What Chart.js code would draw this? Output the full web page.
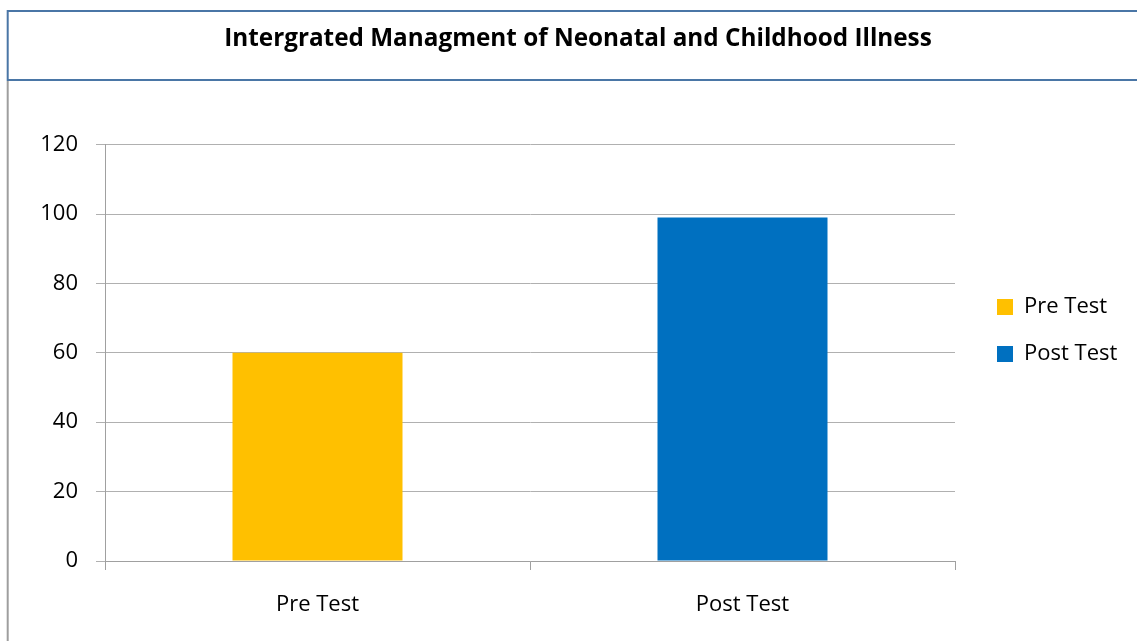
<!DOCTYPE html>
<html>
<head>
<meta charset="utf-8">
<script src="https://cdn.jsdelivr.net/npm/chart.js@4/dist/chart.umd.min.js"></script>
<style>
  html, body { margin: 0; padding: 0; background: #fff; }
  canvas { display: block; }
</style>
</head>
<body>
<canvas id="c" width="1137" height="641"></canvas>
<script>
const chartTitle = "Intergrated Managment of Neonatal and Childhood Illness";
const categories = ["Pre Test", "Post Test"];
const scores = [60, 99];
const barColors = ["#FFC000", "#0070C0"];
const yTicks = [0, 20, 40, 60, 80, 100, 120];

Chart.defaults.font.family = "'Open Sans', sans-serif";
Chart.defaults.color = "#000";

// legend sizing so that plot area ends at x = 955
const LEG_FONT = 22, LEG_BOX = 16, LEG_PAD = 25;
const mctx = document.createElement("canvas").getContext("2d");
mctx.font = LEG_FONT + "px 'Open Sans', sans-serif";
const maxLabelW = Math.max(...categories.map(c => mctx.measureText(c).width));
const legendW = LEG_PAD + LEG_BOX + LEG_FONT / 2 + maxLabelW + 10;
const padRight = Math.max(0, 1137 - 955 - legendW);

const framePlugin = {
  id: "frame",
  beforeDraw(chart) {
    const ctx = chart.ctx;
    ctx.save();
    ctx.fillStyle = "#fff";
    ctx.fillRect(0, 0, chart.width, chart.height);
    ctx.restore();
  },
  afterDraw(chart) {
    const ctx = chart.ctx;
    ctx.save();
    ctx.lineWidth = 2;
    ctx.strokeStyle = "#9E9E9E";
    ctx.beginPath();
    ctx.moveTo(7.7, 81);
    ctx.lineTo(7.7, chart.height);
    ctx.stroke();
    ctx.strokeStyle = "#4A76A6";
    ctx.strokeRect(7.7, 11, 1140, 69);
    ctx.restore();
  }
};

const shiftPlugin = {
  id: "shiftBoxes",
  afterLayout(chart) {
    const lg = chart.legend;
    if (lg) {
      const dx = chart.chartArea.right + 42 - LEG_PAD - lg.left;
      lg.left += dx; lg.right += dx;
    }
    const t = chart.titleBlock;
    if (t) {
      const dx = 578 - (t.left + t.right) / 2;
      t.left += dx; t.right += dx;
    }
  }
};

new Chart(document.getElementById("c"), {
  type: "bar",
  data: {
    labels: categories,
    datasets: [{
      label: "Score",
      data: scores,
      backgroundColor: barColors,
      borderWidth: 0,
      barPercentage: 0.4,
      categoryPercentage: 1.0
    }]
  },
  options: {
    responsive: false,
    animation: false,
    devicePixelRatio: 1,
    layout: { padding: { left: 0, right: padRight, top: 20, bottom: 0 } },
    plugins: {
      title: {
        display: true,
        text: chartTitle,
        color: "#000",
        font: { size: 24.3, weight: "bold" },
        padding: { top: 4, bottom: 91.5 }
      },
      legend: {
        position: "right",
        align: "center",
        labels: {
          boxWidth: LEG_BOX,
          boxHeight: LEG_BOX,
          padding: LEG_PAD,
          color: "#000",
          font: { size: LEG_FONT },
          generateLabels() {
            return categories.map((c, i) => ({
              text: c,
              fillStyle: barColors[i],
              strokeStyle: barColors[i],
              lineWidth: 0,
              hidden: false,
              index: i
            }));
          }
        },
        onClick() {}
      },
      tooltip: { enabled: false }
    },
    scales: {
      x: {
        grid: { drawOnChartArea: false, drawTicks: true, tickLength: 9, color: "#A0A0A0", offset: true },
        border: { color: "#A0A0A0" },
        ticks: { padding: 22, font: { size: 22 }, color: "#000" },
        afterFit(s) { s.height = 80; }
      },
      y: {
        min: yTicks[0],
        max: yTicks[yTicks.length - 1],
        afterBuildTicks(s) { s.ticks = yTicks.map(v => ({ value: v })); },
        ticks: { padding: 18, font: { size: 22 }, color: "#000" },
        grid: { color: "#B0B0B0", tickLength: 9 },
        border: { color: "#A0A0A0" },
        afterFit(s) { s.width = 105; }
      }
    }
  },
  plugins: [framePlugin, shiftPlugin]
});
</script>
</body>
</html>
